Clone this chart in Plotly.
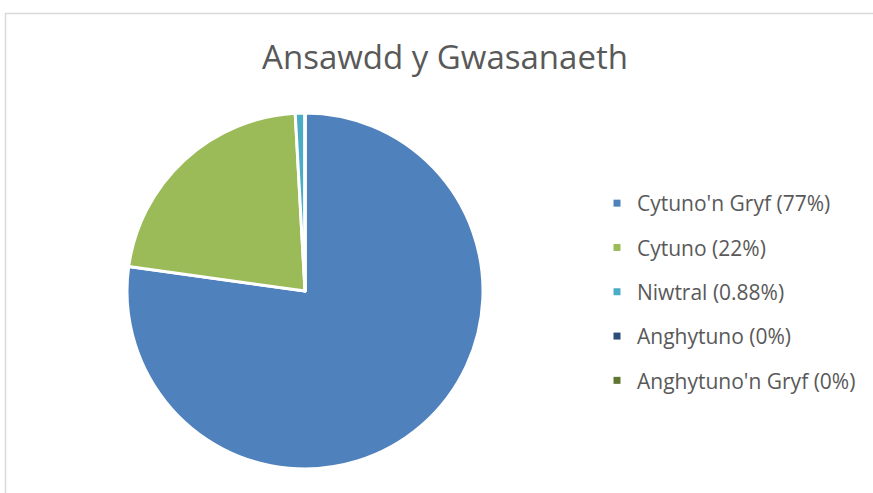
import plotly.graph_objects as go

title = "Ansawdd y Gwasanaeth"
categories = ["Cytuno'n Gryf", "Cytuno", "Niwtral", "Anghytuno", "Anghytuno'n Gryf"]
counts = [88, 25, 1, 0, 0]
legend_labels = ["Cytuno'n Gryf (77%)", "Cytuno (22%)", "Niwtral (0.88%)",
                 "Anghytuno (0%)", "Anghytuno'n Gryf (0%)"]
colors = ["#4F81BD", "#9BBB59", "#4BACC6", "#2C4D75", "#5F7530"]

W, H = 873, 493
fig = go.Figure()
fig.add_trace(go.Pie(
    labels=categories, values=counts, sort=False, direction="clockwise",
    rotation=0, textinfo="none", hoverinfo="label+percent",
    marker=dict(colors=colors, line=dict(color="white", width=3)),
    domain=dict(x=[127 / W, 483 / W], y=[(H - 469) / H, (H - 113) / H]),
    showlegend=False,
))
for i, (lab, col) in enumerate(zip(legend_labels, colors)):
    fig.add_trace(go.Scatter(
        x=[None], y=[None], mode="markers", name=lab, legendgroup=f"g{i}",
        marker=dict(symbol="square", size=7, color=col), showlegend=True,
    ))

fig.update_layout(
    width=W, height=H,
    margin=dict(l=0, r=0, t=0, b=0),
    paper_bgcolor="white", plot_bgcolor="white",
    xaxis=dict(visible=False), yaxis=dict(visible=False),
    font=dict(family="Open Sans, sans-serif", color="#595959"),
    title=dict(text=title, x=445 / W, xanchor="center", y=1 - 57 / H, yanchor="middle",
               yref="container", font=dict(size=33, color="#595959")),
    legend=dict(x=597 / W, xanchor="left", y=1 - 292 / H, yanchor="middle",
                font=dict(size=21, color="#595959"), tracegroupgap=14,
                itemwidth=30, bgcolor="rgba(0,0,0,0)"),
    shapes=[dict(type="rect", xref="paper", yref="paper",
                 x0=5.5 / W, x1=1.2, y0=-0.2, y1=1 - 13.5 / H,
                 line=dict(color="#D9D9D9", width=1.5), fillcolor="rgba(0,0,0,0)",
                 layer="below")],
)
fig.write_html("out.html", post_script="document.body.style.margin='0';",
               config={"displayModeBar": False})
